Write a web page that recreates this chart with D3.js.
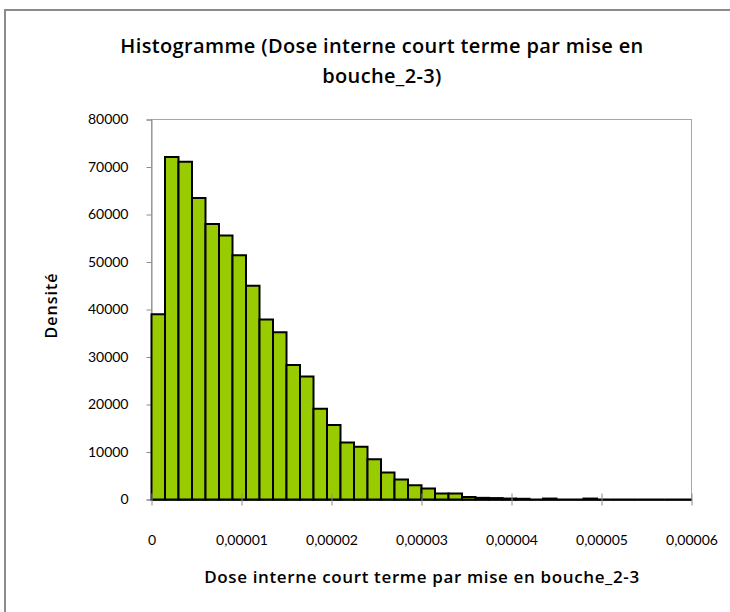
<!DOCTYPE html>
<html>
<head>
<meta charset="utf-8">
<script src="https://cdn.jsdelivr.net/npm/d3@7"></script>
<style>
  html, body { margin: 0; padding: 0; background: #fff; }
  svg { display: block; }
  text { fill: #000; }
</style>
</head>
<body>
<svg id="chart" width="730" height="612"></svg>
<script>
// Histogram bins: lower edges of each class (width 0.0000015)
const binStarts = [
  0, 0.0000015, 0.000003, 0.0000045, 0.000006, 0.0000075, 0.000009, 0.0000105,
  0.000012, 0.0000135, 0.000015, 0.0000165, 0.000018, 0.0000195, 0.000021, 0.0000225,
  0.000024, 0.0000255, 0.000027, 0.0000285, 0.00003, 0.0000315, 0.000033, 0.0000345,
  0.000036, 0.0000375, 0.000039, 0.0000405, 0.000042, 0.0000435, 0.000045, 0.0000465,
  0.000048, 0.0000495, 0.000051, 0.0000525, 0.000054, 0.0000555, 0.000057, 0.0000585
];
const binWidth = 0.0000015;

// Density of each class
const densities = [
  39000, 72100, 71100, 63500, 58000, 55600, 51400, 45000,
  37900, 35200, 28300, 25900, 19100, 15700, 12000, 11100,
  8500, 5700, 4200, 3000, 2300, 1250, 1250, 550,
  350, 300, 200, 150, 0, 200, 0, 0,
  200, 0, 0, 0, 0, 0, 0, 0
];

const xTickValues = [0, 0.00001, 0.00002, 0.00003, 0.00004, 0.00005, 0.00006];
const xTickLabels = ["0", "0,00001", "0,00002", "0,00003", "0,00004", "0,00005", "0,00006"];
const yTickValues = [0, 10000, 20000, 30000, 40000, 50000, 60000, 70000, 80000];

const titleLines = ["Histogramme (Dose interne court terme par mise en", "bouche_2-3)"];
const xTitle = "Dose interne court terme par mise en bouche_2-3";
const yTitle = "Densité";

const tickFont = "Lato, 'Open Sans', sans-serif";
const titleFont = "'Open Sans', Lato, sans-serif";

const svg = d3.select("#chart");

// Spread a label's letters (within a limit) so that it spans the given width
function fitWidth(sel, width, maxSpacing) {
  const node = sel.node();
  const n = node.getNumberOfChars();
  const len = node.getComputedTextLength();
  if (n > 1 && len < width) {
    const s = Math.min(maxSpacing, (width - len) / (n - 1));
    sel.attr("letter-spacing", s);
    return s;
  }
  return 0;
}

// Chart frame
svg.append("rect")
  .attr("x", 5).attr("y", 10)
  .attr("width", 760).attr("height", 640)
  .attr("fill", "#fff")
  .attr("stroke", "#8c8c8c").attr("stroke-width", 2);

const plot = { left: 151.5, right: 691.5, top: 119.5, bottom: 499.5 };

const x = d3.scaleLinear().domain([0, 0.00006]).range([plot.left, plot.right]);
const y = d3.scaleLinear().domain([0, 80000]).range([plot.bottom, plot.top]);

// Plot area border
svg.append("rect")
  .attr("x", plot.left).attr("y", plot.top)
  .attr("width", plot.right - plot.left).attr("height", plot.bottom - plot.top)
  .attr("fill", "none").attr("stroke", "#a6a6a6").attr("stroke-width", 1);

// Y axis
const yAxis = svg.append("g")
  .attr("transform", `translate(${plot.left},0)`)
  .call(d3.axisLeft(y).tickValues(yTickValues).tickFormat(d => String(d))
    .tickSize(5).tickPadding(18));
yAxis.select(".domain").attr("stroke", "#8c8c8c");
yAxis.selectAll(".tick line").attr("stroke", "#8c8c8c");
yAxis.selectAll(".tick text").attr("font-size", 14).attr("font-family", tickFont);

// Bars (outlined paths so empty classes still show on the baseline)
const bars = binStarts.map((b, i) => ({ x0: b, x1: b + binWidth, v: densities[i] }));
svg.append("g").selectAll("path")
  .data(bars)
  .join("path")
  .attr("d", d => {
    const x0 = x(d.x0), x1 = x(d.x1), y0 = y(0), yt = y(d.v);
    return `M${x0},${y0}V${yt}H${x1}V${y0}Z`;
  })
  .attr("fill", "#99cc00")
  .attr("stroke", "#000")
  .attr("stroke-width", 2)
  .attr("stroke-linejoin", "miter");

// X axis with crossing tick marks
const xAxis = svg.append("g")
  .attr("transform", `translate(0,${plot.bottom})`)
  .call(d3.axisBottom(x).tickValues(xTickValues)
    .tickFormat((d, i) => xTickLabels[i])
    .tickSizeInner(6).tickSizeOuter(0).tickPadding(30));
xAxis.select(".domain").attr("stroke", "#000").attr("stroke-width", 1.5);
xAxis.selectAll(".tick line").attr("stroke", "#8c8c8c").attr("y1", -6);
xAxis.selectAll(".tick text").attr("font-size", 14).attr("font-family", tickFont);

// Chart title (both lines share the first line's spacing)
const titleSel = svg.append("g").selectAll("text")
  .data(titleLines)
  .join("text")
  .attr("x", 382)
  .attr("y", (d, i) => 53 + i * 30)
  .attr("text-anchor", "middle")
  .attr("font-family", titleFont)
  .attr("font-size", 20)
  .attr("font-weight", 600)
  .text(d => d);
const titleSpacing = fitWidth(d3.select(titleSel.nodes()[0]), 523, 0.8);
titleSel.attr("letter-spacing", titleSpacing);

// Axis titles
const xt = svg.append("text")
  .attr("x", 422).attr("y", 583)
  .attr("text-anchor", "middle")
  .attr("font-family", titleFont)
  .attr("font-size", 17)
  .attr("font-weight", 600)
  .text(xTitle);
fitWidth(xt, 435, 0.8);

const yt = svg.append("text")
  .attr("transform", "translate(57,305.5) rotate(-90)")
  .attr("text-anchor", "middle")
  .attr("font-family", titleFont)
  .attr("font-size", 16)
  .attr("font-weight", 600)
  .text(yTitle);
fitWidth(yt, 65, 1.2);
</script>
</body>
</html>
